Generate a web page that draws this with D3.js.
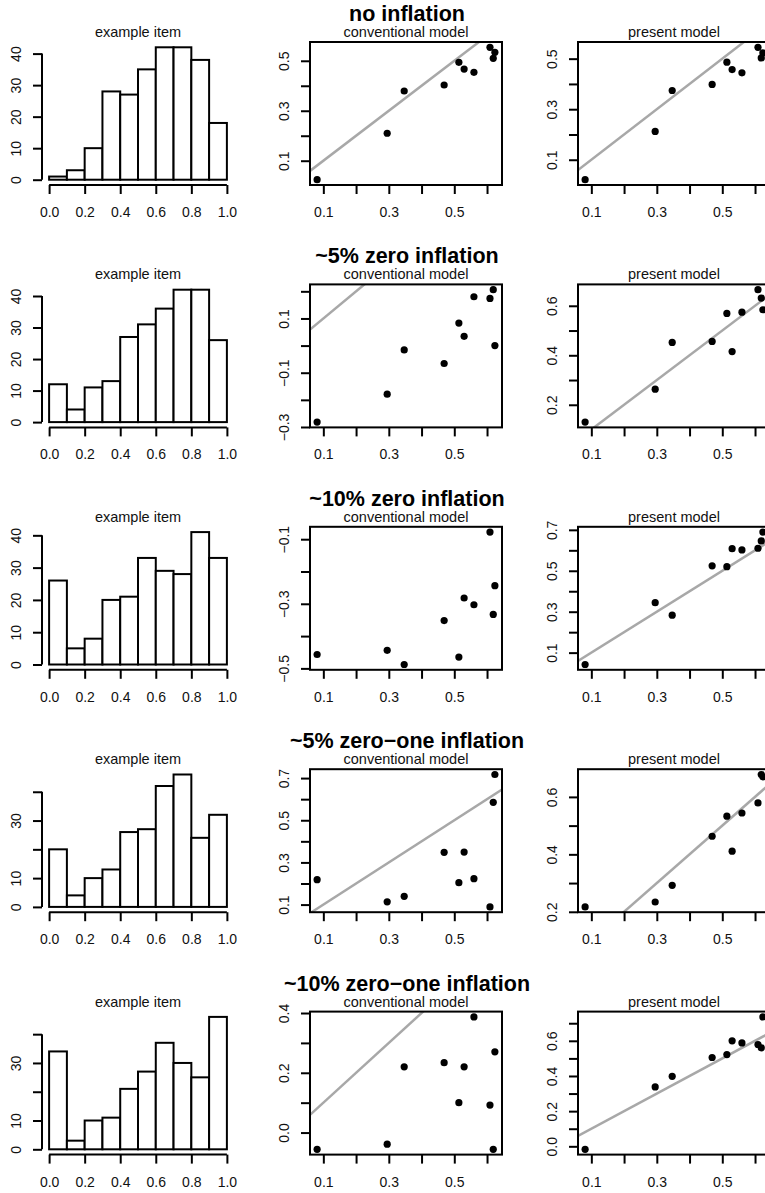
<!DOCTYPE html>
<html>
<head>
<meta charset="utf-8">
<script src="https://cdn.jsdelivr.net/npm/d3@7"></script>
<style>
  body { margin: 0; background: #fff; }
  svg { display: block; font-family: "Liberation Sans", Arial, Helvetica, sans-serif; }
</style>
</head>
<body>
<script>
const width = 765;
const height = 1193;

// true item values, shared x axis of every scatter panel
const trueValues = [0.081, 0.295, 0.347, 0.469, 0.514, 0.530, 0.560, 0.609, 0.619, 0.624];

const rowTitles = [
  "no inflation",
  "~5% zero inflation",
  "~10% zero inflation",
  "~5% zero\u2212one inflation",
  "~10% zero\u2212one inflation"
];

// histogram of the example item, one row per condition
const histBreaks = [0, 0.1, 0.2, 0.3, 0.4, 0.5, 0.6, 0.7, 0.8, 0.9, 1.0];
const histCounts = [
  [1, 3, 10, 28, 27, 35, 42, 42, 38, 18],
  [12, 4, 11, 13, 27, 31, 36, 42, 42, 26],
  [26, 5, 8, 20, 21, 33, 29, 28, 41, 33],
  [20, 4, 10, 13, 26, 27, 42, 46, 24, 32],
  [34, 3, 10, 11, 21, 27, 37, 30, 25, 46]
];
const histXTicks = [0, 0.2, 0.4, 0.6, 0.8, 1.0];
const histYTicks = [0, 10, 20, 30, 40];
const histYLabels = [
  [0, 10, 20, 30, 40],
  [0, 10, 20, 30, 40],
  [0, 10, 20, 30, 40],
  [0, 10, 30],
  [0, 10, 30]
];

// estimates by the conventional model
const convEstimates = [
  [0.024, 0.210, 0.379, 0.403, 0.494, 0.467, 0.454, 0.554, 0.510, 0.534],
  [-0.282, -0.179, -0.016, -0.066, 0.083, 0.034, 0.180, 0.174, 0.206, 0.000],
  [-0.457, -0.444, -0.488, -0.352, -0.465, -0.282, -0.303, -0.078, -0.333, -0.244],
  [0.218, 0.113, 0.139, 0.348, 0.204, 0.349, 0.223, 0.089, 0.585, 0.717],
  [-0.056, -0.039, 0.220, 0.234, 0.100, 0.220, 0.387, 0.092, -0.056, 0.270]
];

// estimates by the present model
const presEstimates = [
  [0.021, 0.212, 0.374, 0.398, 0.486, 0.457, 0.444, 0.545, 0.503, 0.523],
  [0.130, 0.263, 0.452, 0.456, 0.569, 0.415, 0.574, 0.665, 0.631, 0.584],
  [0.042, 0.344, 0.283, 0.524, 0.520, 0.608, 0.602, 0.610, 0.646, 0.689],
  [0.217, 0.234, 0.292, 0.463, 0.533, 0.411, 0.544, 0.579, 0.678, 0.670],
  [-0.017, 0.338, 0.398, 0.505, 0.522, 0.600, 0.588, 0.579, 0.560, 0.736]
];

const scatterXTicks = [0.1, 0.2, 0.3, 0.4, 0.5, 0.6];
const scatterXLabels = [0.1, 0.3, 0.5];

// layout (R mfrow style grid)
const colLeft = [42, 310, 578];
const rowTop0 = 42, rowPitch = 242.4;
const plotW = 192, plotH = 143;
const tickLen = 9;
const labelOff = 27;

const svg = d3.select("body").append("svg")
  .attr("width", width)
  .attr("height", height);

// R pads the data range by 4% on each side
function padded(ext) {
  const r = ext[1] - ext[0];
  return [ext[0] - 0.04 * r, ext[1] + 0.04 * r];
}

const fmt1 = d3.format(".1f");

function styleAxis(g) {
  g.select(".domain").remove();
  g.selectAll(".tick line").attr("stroke", "#000").attr("stroke-width", 2);
  g.selectAll(".tick text")
    .attr("fill", "#111")
    .style("font-size", "14px")
    .style("font-family", "'Liberation Sans', Arial, sans-serif");
}

function bottomAxis(g, x, ticks, labels, f) {
  g.attr("transform", `translate(0,${plotH})`)
    .call(d3.axisBottom(x).tickValues(ticks).tickSize(tickLen)
      .tickFormat(d => labels.some(l => Math.abs(l - d) < 1e-9) ? f(d) : ""));
  styleAxis(g);
  g.selectAll(".tick text").attr("y", labelOff).attr("dy", "0.36em");
}

function leftAxis(g, y, ticks, labels, f) {
  g.call(d3.axisLeft(y).tickValues(ticks).tickSize(tickLen)
      .tickFormat(d => labels.some(l => Math.abs(l - d) < 1e-9) ? f(d) : ""));
  styleAxis(g);
  g.selectAll(".tick text")
    .attr("x", null).attr("dy", null)
    .attr("text-anchor", "middle")
    .attr("dominant-baseline", "central")
    .attr("transform", `translate(${-labelOff + 0.5},0) rotate(-90)`);
}

function subtitle(g, text) {
  g.append("text")
    .attr("x", plotW / 2)
    .attr("y", -5)
    .attr("text-anchor", "middle")
    .attr("fill", "#111")
    .style("font-size", "14.5px")
    .text(text);
}

function drawHist(row) {
  const counts = histCounts[row];
  const g = svg.append("g")
    .attr("transform", `translate(${colLeft[0]},${rowTop0 + row * rowPitch})`);

  const x = d3.scaleLinear().domain(padded([0, 1])).range([0, plotW]);
  const y = d3.scaleLinear().domain(padded([0, d3.max(counts)])).range([plotH, 0]);

  g.selectAll("rect.bar")
    .data(counts)
    .join("rect")
    .attr("class", "bar")
    .attr("x", (d, i) => x(histBreaks[i]))
    .attr("width", (d, i) => x(histBreaks[i + 1]) - x(histBreaks[i]))
    .attr("y", d => y(d))
    .attr("height", d => y(0) - y(d))
    .attr("fill", "#fff")
    .attr("stroke", "#000")
    .attr("stroke-width", 2);

  // axis lines run from first to last tick only
  g.append("line")
    .attr("x1", x(histXTicks[0])).attr("x2", x(histXTicks[histXTicks.length - 1]))
    .attr("y1", plotH).attr("y2", plotH)
    .attr("stroke", "#000").attr("stroke-width", 2);
  g.append("line")
    .attr("x1", 0).attr("x2", 0)
    .attr("y1", y(histYTicks[0])).attr("y2", y(histYTicks[histYTicks.length - 1]))
    .attr("stroke", "#000").attr("stroke-width", 2);

  g.append("g").call(bottomAxis, x, histXTicks, histXTicks, fmt1);
  g.append("g").call(leftAxis, y, histYTicks, histYLabels[row], d3.format("d"));

  subtitle(g, "example item");
}

function drawScatter(row, col, est, name) {
  const g = svg.append("g")
    .attr("transform", `translate(${colLeft[col]},${rowTop0 + row * rowPitch})`);

  const x = d3.scaleLinear().domain(padded(d3.extent(trueValues))).range([0, plotW]);
  const yDom = padded(d3.extent(est));
  const y = d3.scaleLinear().domain(yDom).range([plotH, 0]);

  const clipId = `clip-${row}-${col}`;
  g.append("clipPath").attr("id", clipId)
    .append("rect").attr("width", plotW).attr("height", plotH);

  // identity line y = x
  const xd = x.domain();
  g.append("line")
    .attr("clip-path", `url(#${clipId})`)
    .attr("x1", x(xd[0])).attr("y1", y(xd[0]))
    .attr("x2", x(xd[1])).attr("y2", y(xd[1]))
    .attr("stroke", "#a8a8a8")
    .attr("stroke-width", 2.5);

  g.selectAll("circle")
    .data(trueValues)
    .join("circle")
    .attr("cx", d => x(d))
    .attr("cy", (d, i) => y(est[i]))
    .attr("r", 3.6)
    .attr("fill", "#000");

  g.append("rect")
    .attr("width", plotW).attr("height", plotH)
    .attr("fill", "none")
    .attr("stroke", "#000")
    .attr("stroke-width", 2);

  const yTicks = d3.range(Math.ceil(yDom[0] * 10 - 1e-9), Math.floor(yDom[1] * 10 + 1e-9) + 1)
    .map(k => k / 10);
  const yLabels = yTicks.filter((d, i) => i % 2 === 0);

  g.append("g").call(bottomAxis, x, scatterXTicks, scatterXLabels, fmt1);
  g.append("g").call(leftAxis, y, yTicks, yLabels, fmt1);

  subtitle(g, name);
}

rowTitles.forEach((title, row) => {
  drawHist(row);
  drawScatter(row, 1, convEstimates[row], "conventional model");
  drawScatter(row, 2, presEstimates[row], "present model");

  svg.append("text")
    .attr("x", 407)
    .attr("y", rowTop0 + row * rowPitch - 21)
    .attr("text-anchor", "middle")
    .attr("fill", "#000")
    .style("font-size", "21.5px")
    .style("font-weight", "bold")
    .text(title);
});
</script>
</body>
</html>
